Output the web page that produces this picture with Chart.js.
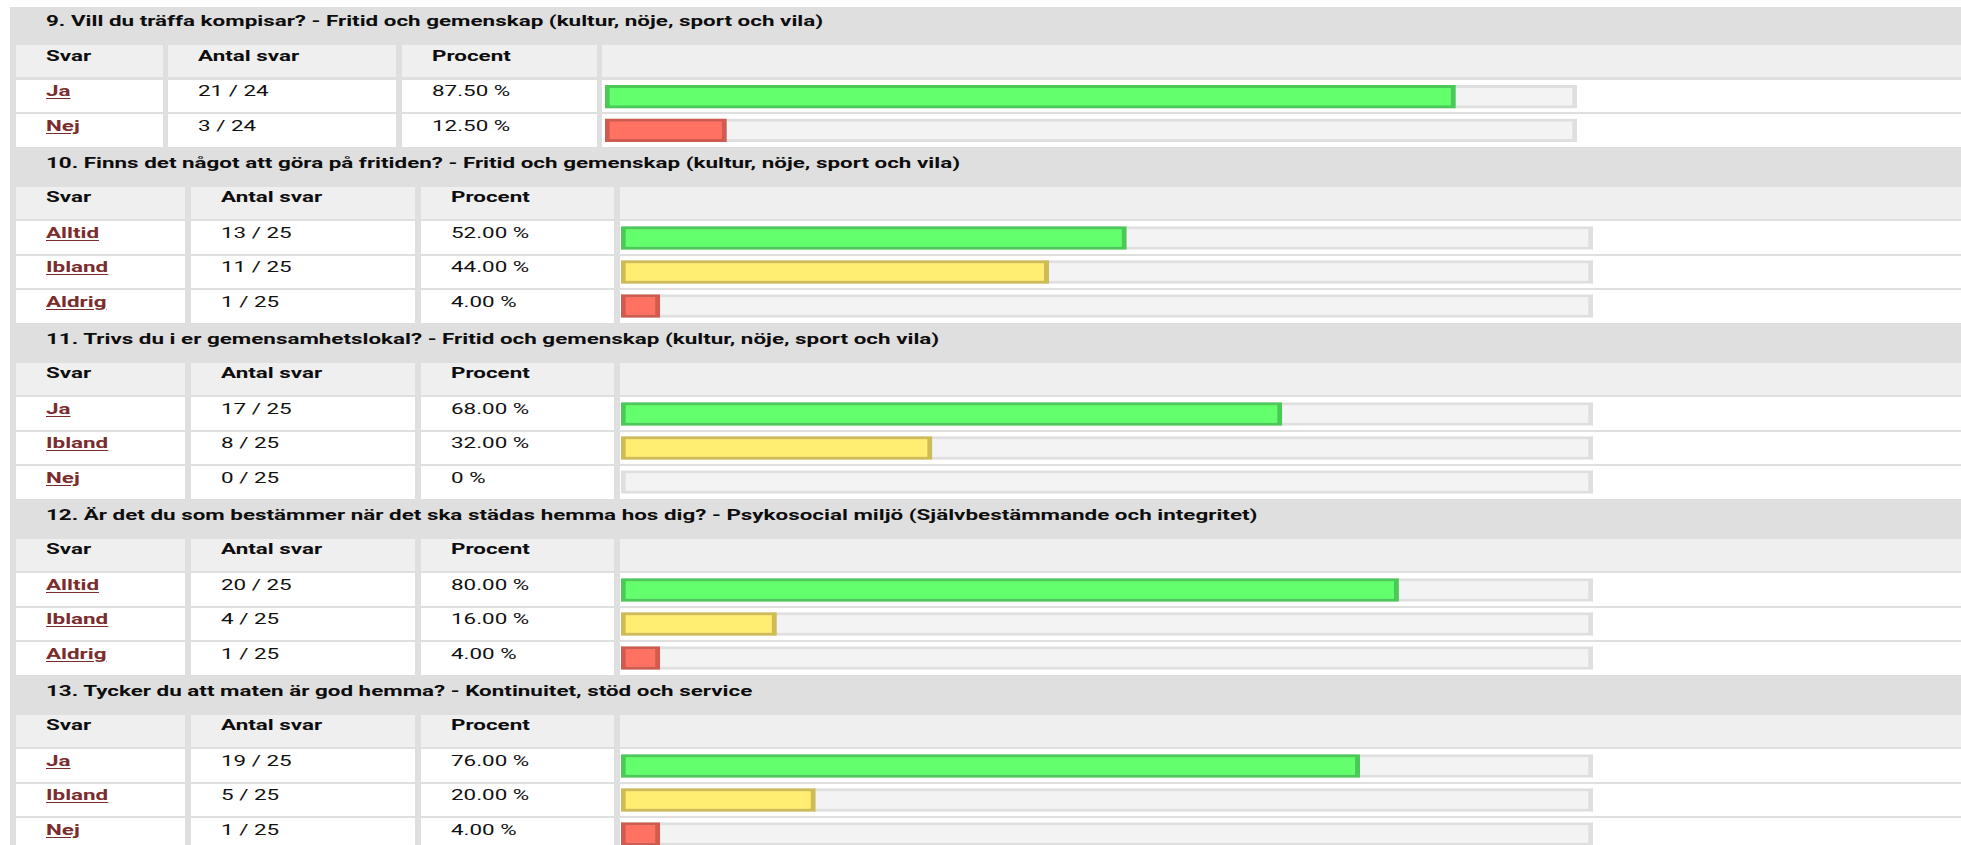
<!DOCTYPE html>
<html>
<head>
<meta charset="utf-8">
<script src="https://cdn.jsdelivr.net/npm/chart.js@4/dist/chart.umd.min.js"></script>
<style>
  html, body { margin: 0; padding: 0; background: #fff; overflow: hidden; }
  body { width: 1961px; height: 845px; position: relative; font-family: Roboto, "Liberation Sans", Arial, sans-serif; }
  #wrap { position: absolute; left: 10px; top: 7px; width: 1951px; height: 838px; background: #dfdfdf; }
  .cell { position: absolute; }
  .head { background: #efefef; }
  .row { background: #fff; }
  .txt { position: absolute; white-space: nowrap; font-size: 14px; line-height: 16px; transform-origin: 0 50%; transform: scaleX(1.6); color: #111; }
  .bold { font-weight: 700; color: #0d0d0d; }
  .answer { font-weight: 700; color: #7b2d2d; text-decoration: underline; text-underline-offset: 2px; }
  .chartbox { position: absolute; }
</style>
</head>
<body>
<div id="wrap"></div>

<script>
// survey answers
const headerLabels = ['Svar', 'Antal svar', 'Procent'];

const q9Title = '9. Vill du träffa kompisar? - Fritid och gemenskap (kultur, nöje, sport och vila)';
const q9Answers = ['Ja', 'Nej'];
const q9Counts = [21, 3];
const q9Total = 24;
const q9Percent = [87.5, 12.5];

const q10Title = '10. Finns det något att göra på fritiden? - Fritid och gemenskap (kultur, nöje, sport och vila)';
const q10Answers = ['Alltid', 'Ibland', 'Aldrig'];
const q10Counts = [13, 11, 1];
const q10Total = 25;
const q10Percent = [52, 44, 4];

const q11Title = '11. Trivs du i er gemensamhetslokal? - Fritid och gemenskap (kultur, nöje, sport och vila)';
const q11Answers = ['Ja', 'Ibland', 'Nej'];
const q11Counts = [17, 8, 0];
const q11Total = 25;
const q11Percent = [68, 32, 0];

const q12Title = '12. Är det du som bestämmer när det ska städas hemma hos dig? - Psykosocial miljö (Självbestämmande och integritet)';
const q12Answers = ['Alltid', 'Ibland', 'Aldrig'];
const q12Counts = [20, 4, 1];
const q12Total = 25;
const q12Percent = [80, 16, 4];

const q13Title = '13. Tycker du att maten är god hemma? - Kontinuitet, stöd och service';
const q13Answers = ['Ja', 'Ibland', 'Nej'];
const q13Counts = [19, 5, 1];
const q13Total = 25;
const q13Percent = [76, 20, 4];

const trackMax = 100;

const questions = [
  { title: q9Title, answers: q9Answers, counts: q9Counts, total: q9Total, percent: q9Percent },
  { title: q10Title, answers: q10Answers, counts: q10Counts, total: q10Total, percent: q10Percent },
  { title: q11Title, answers: q11Answers, counts: q11Counts, total: q11Total, percent: q11Percent },
  { title: q12Title, answers: q12Answers, counts: q12Counts, total: q12Total, percent: q12Percent },
  { title: q13Title, answers: q13Answers, counts: q13Counts, total: q13Total, percent: q13Percent },
];

// bar colour depends on the kind of answer
const tones = { Ja: 'good', Alltid: 'good', Ibland: 'mid', Nej: 'bad', Aldrig: 'bad' };
const palette = {
  good: { fill: '#63ff6d', border: '#4ac958' },
  mid:  { fill: '#ffee72', border: '#cdbc55' },
  bad:  { fill: '#ff7262', border: '#d05b50' },
};

// column layout (first table is a little narrower than the rest)
const colsFirst = [[15.7, 163.3], [168.3, 396], [401.7, 596.5], [602, 1961]];
const colsRest  = [[15.7, 185], [191, 415], [420.7, 613.5], [620, 1961]];

function addBox(cls, x1, y1, x2, y2) {
  const d = document.createElement('div');
  d.className = 'cell ' + cls;
  d.style.left = Math.round(x1) + 'px';
  d.style.top = Math.round(y1) + 'px';
  d.style.width = (Math.round(x2) - Math.round(x1)) + 'px';
  d.style.height = (Math.round(y2) - Math.round(y1)) + 'px';
  document.body.appendChild(d);
  return d;
}

function addText(cls, text, x, baseline) {
  const d = document.createElement('div');
  d.className = 'txt ' + cls;
  d.textContent = text;
  d.style.left = x + 'px';
  d.style.top = (baseline - 12.8) + 'px';
  document.body.appendChild(d);
}

function fmtPercent(p) {
  return p === 0 ? '0 %' : p.toFixed(2) + ' %';
}

let T = 5;
questions.forEach((q, qi) => {
  const cols = qi === 0 ? colsFirst : colsRest;
  const n = q.answers.length;

  addText('bold', q.title, 45.5, T + 21);

  const hTop = T + 40;
  cols.forEach(c => addBox('head', c[0], hTop, c[1], hTop + 32));
  headerLabels.forEach((h, i) => addText('bold', h, cols[i][0] + 30, hTop + 15.5));

  const rowTop = i => T + 74.5 + i * 34.5;
  q.answers.forEach((a, i) => {
    const y = rowTop(i);
    cols.forEach(c => addBox('row', c[0], y, c[1], y + 32.5));
    addText('answer', a, cols[0][0] + 30, y + 16.5);
    addText('', q.counts[i] + ' / ' + q.total, cols[1][0] + 30, y + 16.5);
    addText('', fmtPercent(q.percent[i]), cols[2][0] + 30, y + 16.5);
  });

  // one horizontal bar chart per question, laid over the last column
  const top = rowTop(0);
  const bottom = rowTop(n - 1) + 32.5;
  const box = document.createElement('div');
  box.className = 'chartbox';
  box.style.left = (cols[3][0] + (qi === 0 ? 3 : 1)) + 'px';
  box.style.top = Math.round(top) + 'px';
  box.style.width = '972px';
  box.style.height = Math.round(bottom - top) + 'px';
  const canvas = document.createElement('canvas');
  box.appendChild(canvas);
  document.body.appendChild(box);

  const border = { top: 3, bottom: 3, left: 5, right: 5 };
  new Chart(canvas, {
    type: 'bar',
    data: {
      labels: q.answers,
      datasets: [
        {
          data: q.percent,
          backgroundColor: ctx => palette[tones[q.answers[ctx.dataIndex]]].fill,
          borderColor: ctx => palette[tones[q.answers[ctx.dataIndex]]].border,
          borderWidth: border,
          borderSkipped: false,
          barThickness: 23,
          grouped: false,
        },
        {
          data: q.answers.map(() => trackMax),
          backgroundColor: '#f3f3f3',
          borderColor: '#dfdfdf',
          borderWidth: border,
          borderSkipped: false,
          barThickness: 23,
          grouped: false,
        },
      ],
    },
    options: {
      indexAxis: 'y',
      responsive: true,
      maintainAspectRatio: false,
      animation: false,
      layout: { padding: 0 },
      plugins: { legend: { display: false }, tooltip: { enabled: false } },
      scales: {
        x: { display: false, min: 0, max: trackMax },
        y: { display: false },
      },
    },
  });

  T = bottom;
});
</script>
</body>
</html>
